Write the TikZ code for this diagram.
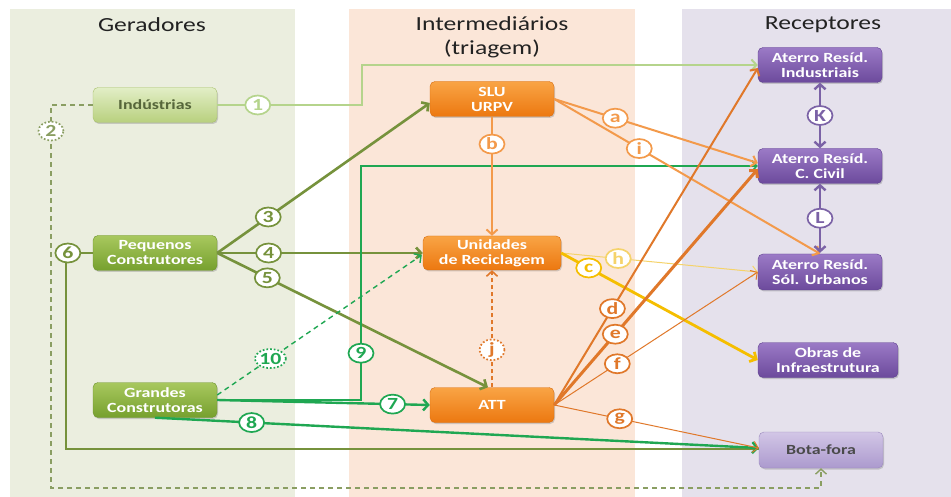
\documentclass[tikz,border=0pt]{standalone}
\usepackage{fontspec}
\setmainfont{Carlito}[FakeStretch=1.28]
\usetikzlibrary{arrows.meta,shadows,calc,shapes.geometric}
\definecolor{panG}{HTML}{EBEEDF}
\definecolor{panO}{HTML}{FBE6D8}
\definecolor{panP}{HTML}{E5E1EC}
\definecolor{cone}{HTML}{B5D48C}
\definecolor{ctwo}{HTML}{8A9E62}
\definecolor{olv}{HTML}{76923C}
\definecolor{grn}{HTML}{1FA752}
\definecolor{orl}{HTML}{F39A4B}
\definecolor{ord}{HTML}{E0782A}
\definecolor{yel}{HTML}{F5BE00}
\definecolor{yell}{HTML}{F5D36A}
\definecolor{pur}{HTML}{7B62A6}
\definecolor{glT}{HTML}{E2EEC6}
\definecolor{glB}{HTML}{B8D07E}
\definecolor{glD}{HTML}{A9C06E}
\definecolor{glX}{HTML}{56663A}
\definecolor{gdT}{HTML}{A8C85E}
\definecolor{gdB}{HTML}{76A02E}
\definecolor{gdD}{HTML}{6E9430}
\definecolor{obT}{HTML}{F9A445}
\definecolor{obB}{HTML}{EC7810}
\definecolor{obD}{HTML}{D86E10}
\definecolor{pbT}{HTML}{9B7AC6}
\definecolor{pbB}{HTML}{6C4A9C}
\definecolor{pbD}{HTML}{5F4090}
\definecolor{plT}{HTML}{D2C6E6}
\definecolor{plB}{HTML}{AC9ACE}
\definecolor{plD}{HTML}{9C8ABE}
\definecolor{plX}{HTML}{4A4A4A}
\definecolor{ttlc}{HTML}{222222}
\begin{document}
\begin{tikzpicture}[x=1pt,y=-1pt,
  box/.style={rounded corners=5pt, minimum width=124pt, minimum height=35pt, inner sep=1pt, align=center,
    font=\bfseries\fontsize{14}{15}\selectfont, text=white,
    drop shadow={shadow xshift=1pt,shadow yshift=-1.5pt,opacity=0.35}},
  gl/.style={box, top color=glT, bottom color=glB, draw=glD, text=glX},
  gd/.style={box, top color=gdT, bottom color=gdB, draw=gdD},
  ob/.style={box, top color=obT, bottom color=obB, draw=obD},
  pb/.style={box, top color=pbT, bottom color=pbB, draw=pbD},
  pl/.style={box, top color=plT, bottom color=plB, draw=plD, text=plX},
  lbl/.style={ellipse, fill=white, draw=#1, text=#1, solid, line width=1.7pt, inner sep=0pt,
    minimum width=25pt, minimum height=19pt, font=\bfseries\fontsize{17}{17}\selectfont},
  dlbl/.style={lbl=#1, dotted},
  arr/.style={-{Straight Barb[length=5pt,width=11pt]}},
  barr/.style={{Straight Barb[length=5pt,width=11pt]}-{Straight Barb[length=5pt,width=11pt]}},
  ttl/.style={font=\fontsize{20}{24}\selectfont, text=ttlc, align=center}
]
\useasboundingbox (0,0) rectangle (951,497);
\fill[white] (0,0) rectangle (951,497);
\fill[panG] (10,9) rectangle (295,497);
\fill[panO] (349,9) rectangle (635,497);
\fill[panP] (682,9) rectangle (951,497);
\node[ttl] (tg) at (152,25) {Geradores};
\node[ttl] (ti) at (492,37) {Intermediários\\(triagem)};
\node[ttl] (tr) at (823,25) {Receptores};
% nodes
\node[gl] (ind) at (155,105) {Indústrias};
\node[gd] (pq) at (155,253) {Pequenos\\Construtores};
\node[gd] (gc) at (155,400) {Grandes\\Construtoras};
\node[ob] (slu) at (492,99) {SLU\\URPV};
\node[ob, minimum width=138pt, minimum height=34pt] (uni) at (492,253) {Unidades\\de Reciclagem};
\node[ob] (att) at (492,405) {ATT};
\node[pb] (aind) at (820,65) {Aterro Resíd.\\Industriais};
\node[pb] (aciv) at (820,166) {Aterro Resíd.\\C. Civil};
\node[pb, minimum height=36pt] (aurb) at (820,272) {Aterro Resíd.\\Sól. Urbanos};
\node[pb, minimum width=140pt] (obr) at (828,360) {Obras de\\Infraestrutura};
\node[pl, minimum height=36pt] (bota) at (821,450) {Bota-fora};
% connectors
\draw[cone, line width=2pt, arr] (ind.east) -- node[lbl=cone, pos=0.28] {1} (362,105) -- (362,65) -- (aind.west);
\draw[ctwo, line width=1.4pt, dash pattern=on 5pt off 4pt, arr] (ind.west) -- (51,105) -- node[dlbl=ctwo, pos=0.068] {2} (51,488) -- (821,488) -- (bota.south);
\draw[olv, line width=2.6pt] (pq.west) -- node[lbl=olv, pos=0.93] {6} (66,253) -- (66,449) -- ($(bota.west)+(0,-1)$);
\draw[olv, line width=2.6pt, arr] (pq.east) -- node[lbl=olv, pos=0.24] {3} ($(slu.west)+(0,4)$);
\draw[olv, line width=2.6pt, arr] (pq.east) -- node[lbl=olv, pos=0.25] {4} (uni.west);
\draw[olv, line width=2.6pt, arr] (pq.east) -- node[lbl=olv, pos=0.185] {5} ($(att.north)+(-4,0)$);
\draw[grn, line width=1.6pt, arr] (gc.east) -- (361,400) -- node[lbl=grn, pos=0.2] {9} (361,166) -- (aciv.west);
\draw[grn, line width=1.4pt, dash pattern=on 5pt off 4pt, arr] ($(gc.east)+(0,-5)$) -- node[dlbl=grn, pos=0.26] {10} ($(uni.west)+(-1,2)$);
\draw[grn, line width=2.4pt, arr] (gc.east) -- node[lbl=grn, pos=0.825] {7} (att.west);
\draw[grn, line width=2.4pt, arr] (gc.south) -- node[lbl=grn, pos=0.16] {8} ($(bota.west)+(0,-2)$);
\draw[orl, line width=2pt, arr] (slu.south) -- node[lbl=orl, pos=0.23] {b} (uni.north);
\draw[orl, line width=2pt, arr] (slu.east) -- node[lbl=orl, pos=0.3] {a} ($(aciv.west)+(0,-3)$);
\draw[orl, line width=2pt, arr] (slu.east) -- node[lbl=orl, pos=0.32] {i} (aurb.north);
\draw[ord, line width=1.6pt, dash pattern=on 4pt off 3pt, arr] (att.north) -- node[dlbl=ord, pos=0.32] {j} (uni.south);
\draw[yell, line width=1pt, arr] (uni.east) -- node[lbl=yell, pos=0.29] {h} (aurb.west);
\draw[yel, line width=2.8pt, arr] (uni.east) -- node[lbl=yel, pos=0.14] {c} (obr.west);
\draw[ord, line width=1pt, arr] (att.east) -- node[lbl=ord, pos=0.32] {g} ($(bota.west)+(0,-2)$);
\draw[ord, line width=1pt, arr] (att.east) -- node[lbl=ord, pos=0.31] {f} (aurb.west);
\draw[ord, line width=2pt, arr] (att.east) -- node[lbl=ord, pos=0.286] {d} ($(aind.west)+(0,3)$);
\draw[ord, line width=3pt, arr] (att.east) -- node[lbl=ord, pos=0.3] {e} ($(aciv.west)+(0,3)$);
\draw[pur, line width=2.4pt, barr] (aind.south) -- node[lbl=pur] {K} (aciv.north);
\draw[pur, line width=2.4pt, barr] (aciv.south) -- node[lbl=pur] {L} ($(aurb.north)+(0,-1)$);
\end{tikzpicture}
\end{document}
